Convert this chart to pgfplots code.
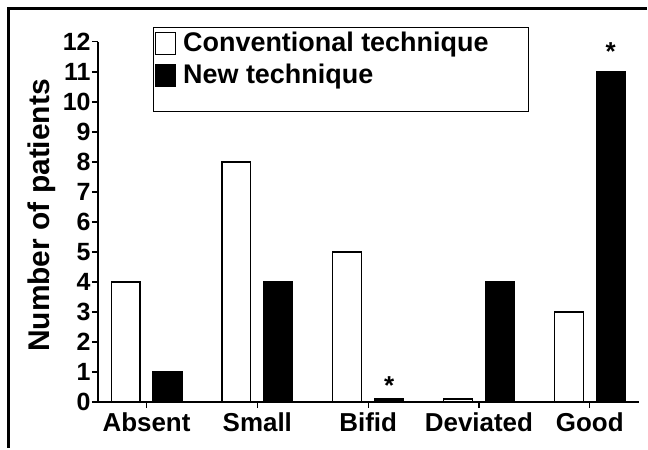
\documentclass[border=0pt]{standalone}
\usepackage{pgfplots}
\pgfplotsset{compat=1.18}
\usepackage{fontspec}
\setmainfont{Liberation Sans}
\begin{document}
\fontsize{26bp}{30bp}\selectfont\bfseries
\begin{tikzpicture}
\path (0,0) rectangle (648bp,449bp);
\draw[line width=3bp] (8.5bp,0) -- (8.5bp,440.5bp) -- (648bp,440.5bp);
\begin{axis}[
  at={(98bp,46bp)}, anchor=south west,
  scale only axis, width=542bp, height=361bp,
  xmin=-0.44, xmax=4.44, ymin=0, ymax=12,
  axis x line*=bottom, axis y line*=left,
  axis line style={line width=1.5bp},
  ybar=13bp, bar width=29bp,
  xtick={0,...,4}, xticklabels={Absent,Small,Bifid,Deviated,Good},
  ytick={0,...,12},
  tick style={line width=1.2bp, black},
  major tick length=6bp,
  tick align=outside, xtick pos=bottom, ytick pos=left,
  /pgf/number format/assume math mode=true,
  yticklabel style={font=\fontsize{25bp}{28bp}\selectfont\bfseries, inner sep=1bp},
  xticklabel style={font=\fontsize{26bp}{30bp}\selectfont\bfseries, inner sep=4bp},
  ylabel={Number of patients},
  ylabel style={font=\fontsize{30bp}{34bp}\selectfont\bfseries, at={(rel axis cs:-0.103,0.518)}, anchor=center},
  legend style={at={(rel axis cs:0.1015,1.0416)}, anchor=north west, draw=black, line width=1.2bp,
    font=\fontsize{27bp}{30bp}\selectfont\bfseries, inner xsep=2bp, inner ysep=2bp, row sep=5bp},
  legend cell align=left,
  legend image code/.code={\draw[#1,line width=1bp] (0bp,-11bp) rectangle (20bp,11bp);},
]
\addplot[draw=black, fill=white, line width=1.2bp] coordinates {(0,4) (1,8) (2,5) (3,0.1) (4,3)};
\addlegendentry{\hspace*{5bp}Conventional technique\rule{36bp}{0pt}}
\addplot[draw=black, fill=black, line width=1.2bp,
  nodes near coords, point meta=explicit symbolic,
  every node near coord/.append style={font=\fontsize{26bp}{30bp}\selectfont\bfseries, black, anchor=south, inner sep=1bp, yshift=3bp}]
  coordinates {(0,1)[] (1,4)[] (2,0.1)[*] (3,4)[] (4,11)[{\raisebox{7bp}{*}}]};
\addlegendentry{\hspace*{5bp}New technique}
\addlegendimage{empty legend}
\addlegendentry{\fontsize{8bp}{10bp}\selectfont\strut}
\end{axis}
\end{tikzpicture}
\end{document}
